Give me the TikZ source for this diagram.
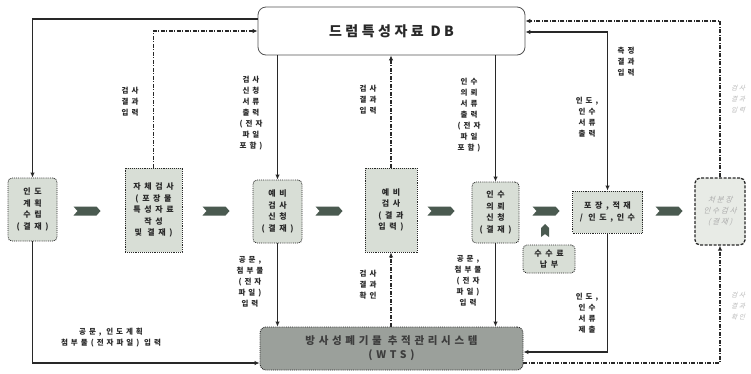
\documentclass[tikz,border=0pt]{standalone}
\usepackage{fontspec}
\usetikzlibrary{arrows.meta}
\newfontfamily\krT[LetterSpace=25]{Noto Sans CJK KR}
\newfontfamily\krW[LetterSpace=35]{Noto Sans CJK KR}
\newfontfamily\krB[LetterSpace=45]{Noto Sans CJK KR}
\newfontfamily\krL[LetterSpace=40]{Noto Sans CJK KR}
\newfontfamily\krI[LetterSpace=25,FakeSlant=0.3]{Noto Sans CJK KR}
\definecolor{boxfill}{RGB}{216,222,214}
\definecolor{ink}{RGB}{40,40,40}
\definecolor{chevc}{RGB}{74,90,80}
\definecolor{wtsfill}{RGB}{155,160,155}
\begin{document}
\begin{tikzpicture}[x=1pt,y=-1pt,
 line/.style={draw=ink, line width=1.1pt},
 arr/.style={line, -{Latex[length=5pt,width=4.5pt]}},
 dd/.style={dash pattern=on 4pt off 1.5pt on 1pt off 1.5pt},
 pbox/.style={draw=ink, densely dotted, line width=0.9pt, fill=boxfill, inner sep=0pt, align=center, font=\krB\bfseries\fontsize{8}{11.5}\selectfont, text=ink},
 rbox/.style={pbox, rounded corners=4pt},
 lbl/.style={align=center, font=\krL\bfseries\fontsize{7.5}{11}\selectfont, text=ink, inner sep=0pt},
 faded/.style={align=center, font=\krI\fontsize{6.5}{11}\selectfont, text=gray!55, inner sep=0pt},
 chev/.pic={\fill[chevc] (-13.5,-4.5) -- (9.5,-4.5) -- (13.5,0) -- (9.5,4.5) -- (-13.5,4.5) -- (-9.5,0) -- cycle;},
]
\useasboundingbox (0,0) rectangle (751,373);
\fill[white] (0,0) rectangle (751,373);

% main nodes
\node[draw=ink!80, line width=0.8pt, rounded corners=8pt, fill=white, minimum width=267pt, minimum height=48pt, font=\krT\bfseries\fontsize{14}{16}\selectfont, text=ink] (db) at (391.5,31) {드럼특성자료 DB};
\node[rbox, minimum width=49pt, minimum height=63pt] (b1) at (32.5,209.5) {인도\\계획\\수립\\(결재)};
\node[pbox, minimum width=57pt, minimum height=84pt] (b2) at (153.5,210) {자체검사\\(포장물\\특성자료\\작성\\및 결재)};
\node[rbox, minimum width=49pt, minimum height=63pt] (b3) at (277.5,211.5) {예비\\검사\\신청\\(결재)};
\node[pbox, minimum width=52pt, minimum height=84pt] (b4) at (391,210) {예비\\검사\\(결과\\입력)};
\node[rbox, minimum width=47pt, minimum height=61pt] (b5) at (495.5,212.5) {인수\\의뢰\\신청\\(결재)};
\node[rbox, minimum width=52pt, minimum height=28pt] (fee) at (549,259) {수수료\\납부};
\node[pbox, minimum width=70pt, minimum height=42pt] (b6) at (607.5,212) {포장,적재\\/ 인도,인수};
\node[draw=ink, line width=1.3pt, dash pattern=on 3pt off 1.5pt, rounded corners=5pt, fill=boxfill!60, minimum width=50pt, minimum height=67pt, align=center, inner sep=0pt, font=\krI\fontsize{7.5}{11}\selectfont, text=gray!65] (b7) at (720,211.5) {처분장\\인수검사\\(결재)};
\node[draw=ink, densely dotted, line width=0.9pt, rounded corners=6pt, fill=wtsfill, minimum width=263pt, minimum height=43pt, align=center, inner sep=0pt, font=\krW\bfseries\fontsize{10.5}{14}\selectfont, text=ink!90] (wts) at (391.5,348.5) {방사성폐기물 추적관리시스템\\(WTS)};

% chevrons
\pic at (87,211) {chev};
\pic at (216,211) {chev};
\pic at (329,211) {chev};
\pic at (441,211) {chev};
\pic at (546,211) {chev};
\pic at (669,211) {chev};
\fill[chevc] (541,237) -- (541,228) -- (545,224) -- (549,228) -- (549,237) -- (545,234) -- cycle;

% connectors to/from DB
\draw[arr] ([yshift=12pt]db.west) -| (b1.north);
\draw[arr, dd] (b2.north) |- (db.west);
\draw[arr] (db.south -| b3.north) -- (b3.north);
\draw[arr, dd] (b4.north) -- (b4.north |- db.south);
\draw[arr] (db.south -| b5.north) -- (b5.north);
\draw[line, {Latex[length=5pt,width=4.5pt]}-{Latex[length=5pt,width=4.5pt]}] ([yshift=-1pt]db.east) -| (b6.north);
\draw[arr, dd] (b7.north) |- ([yshift=10pt]db.east);

% connectors to/from WTS
\draw[arr] (b1.south) |- ([yshift=-14.5pt]wts.west);
\draw[arr] (b3.south) -- (b3.south |- wts.north);
\draw[arr, dd] (wts.north -| b4.south) -- (b4.south);
\draw[arr] (b5.south) -- (b5.south |- wts.north);
\draw[arr] (b6.south) |- ([yshift=-3.5pt]wts.east);
\draw[arr, dd] ([yshift=-14.5pt]wts.east) -| (b7.south);

% labels
\node[lbl] (l1) at (130,102) {검사\\결과\\입력};
\node[lbl] (l2) at (251,113) {검사\\신청\\서류\\출력\\(전자\\파일\\포함)};
\node[lbl] (l3) at (368,100) {검사\\결과\\입력};
\node[lbl] (l4) at (469,115) {인수\\의뢰\\서류\\출력\\(전자\\파일\\포함)};
\node[lbl] (l5) at (626,62) {측정\\결과\\입력};
\node[lbl] (l6) at (587,117) {인도,\\인수\\서류\\출력};
\node[lbl] (l7) at (250,282) {공문,\\첨부물\\(전자\\파일)\\입력};
\node[lbl] (l8) at (368,285) {검사\\결과\\확인};
\node[lbl] (l9) at (468,281) {공문,\\첨부물\\(전자\\파일)\\입력};
\node[lbl] (l10) at (587,313) {인도,\\인수\\서류\\제출};
\node[lbl] (l11) at (111,338) {공문, 인도계획\\첨부물(전자파일) 입력};
\node[faded] (l12) at (738,99) {검사\\결과\\입력};
\node[faded] (l13) at (738,306) {검사\\결과\\확인};
\end{tikzpicture}
\end{document}
